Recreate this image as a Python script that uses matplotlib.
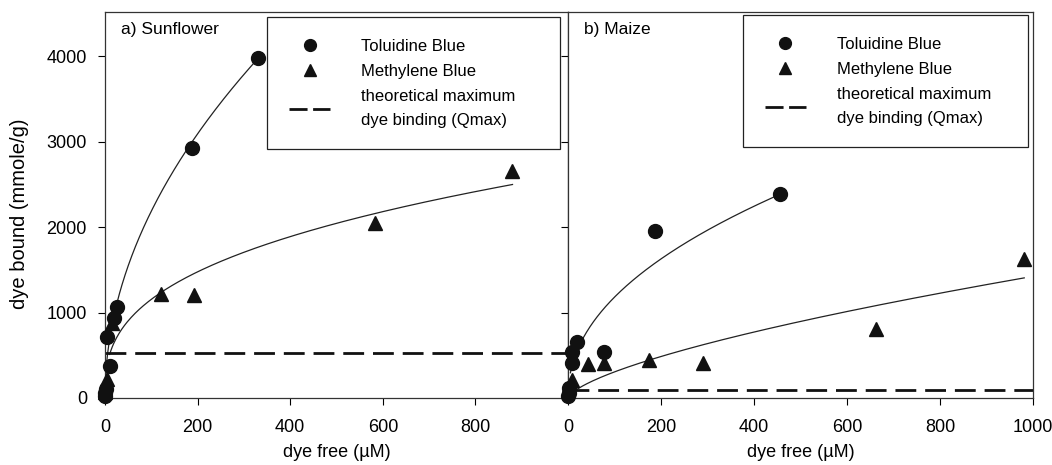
import numpy as np
import matplotlib.pyplot as plt
from matplotlib.lines import Line2D

############# DATA ###############
# a) Sunflower
SUN_TB_FREE = [0, 1, 2, 5, 11, 20, 25, 188, 330]
SUN_TB_BOUND = [20, 60, 110, 710, 380, 930, 1070, 2920, 3975]
SUN_MB_FREE = [1, 4, 15, 122, 193, 583, 879]
SUN_MB_BOUND = [70, 225, 880, 1220, 1200, 2045, 2660]
SUN_QMAX = 525

# b) Maize
MAI_TB_FREE = [0, 1, 3, 9, 9, 19, 78, 187, 456]
MAI_TB_BOUND = [20, 60, 120, 410, 540, 660, 540, 1955, 2386]
MAI_MB_FREE = [8, 43, 77, 175, 290, 662, 981]
MAI_MB_BOUND = [215, 400, 405, 445, 405, 805, 1620]
MAI_QMAX = 92

# Freundlich fit curves (q = K * c^n), fit ranges
SUN_TB_FIT = (218.5, 0.50, 0.5, 330)
SUN_MB_FIT = (225.0, 0.355, 10, 880)
MAI_TB_FIT = (140.0, 0.463, 5, 456)
MAI_MB_FIT = (14.1, 0.668, 8, 981)

X_TICKS = [0, 200, 400, 600, 800, 1000]
Y_TICKS = [0, 1000, 2000, 3000, 4000]
LEGEND_LABELS = ["Toluidine Blue", "Methylene Blue",
                 "theoretical maximum\ndye binding (Qmax)"]
##################################

OUTPUT_PATH = "out.png"
plt.rcParams["font.family"] = ["Liberation Sans", "DejaVu Sans"]

fig = plt.figure(figsize=(10.52, 4.65), dpi=100)
ax_a = fig.add_axes([0.0998, 0.1441, 0.4402, 0.8301])
ax_b = fig.add_axes([0.5400, 0.1441, 0.4420, 0.8301])


def draw_panel(ax, tb_x, tb_y, mb_x, mb_y, qmax, tb_fit, mb_fit, label, xticks,
               leg_box):
    for K, n, c0, c1 in (tb_fit, mb_fit):
        c = np.linspace(c0, c1, 300)
        ax.plot(c, K * c ** n, color="#222222", linewidth=0.9, zorder=2)

    ax.plot([0, 1000], [qmax, qmax], color="#111111", linewidth=2.0,
            dashes=(7.5, 3.2), zorder=2)

    ax.plot(tb_x, tb_y, "o", color="#111111", markersize=10, clip_on=False, zorder=3)
    ax.plot(mb_x, mb_y, "^", color="#111111", markersize=10, clip_on=False, zorder=3)

    ax.set_xlim(0, 1000)
    ax.set_ylim(0, 4515)
    ax.set_xticks(xticks)
    ax.set_yticks(Y_TICKS)
    ax.tick_params(direction="out", length=5, width=0.8, labelsize=13)
    ax.tick_params(axis="x", pad=10)
    ax.tick_params(axis="y", pad=8)
    for sp in ax.spines.values():
        sp.set_linewidth(0.9)
        sp.set_color("#333333")

    ax.text(0.035, 0.955, label, transform=ax.transAxes, fontsize=12.5,
            ha="left", va="center")

    ax.set_xlabel("dye free (\u00b5M)", fontsize=13, labelpad=6)

    handles = [
        Line2D([], [], marker="o", ls="none", color="#111111", markersize=8.5),
        Line2D([], [], marker="^", ls="none", color="#111111", markersize=9),
        Line2D([], [], color="#111111", linewidth=2.0, dashes=(6.5, 2)),
    ]
    leg = ax.legend(handles, LEGEND_LABELS,
                    loc="upper left", bbox_to_anchor=leg_box, mode="expand",
                    fontsize=12, frameon=True, fancybox=False,
                    edgecolor="#222222", framealpha=1.0, borderpad=1.3,
                    handlelength=2.5, handletextpad=1.85, labelspacing=0.62,
                    borderaxespad=0.0)
    leg.get_frame().set_linewidth(0.9)
    for t in leg.get_texts():
        t.set_linespacing(1.68)


draw_panel(ax_a, SUN_TB_FREE, SUN_TB_BOUND, SUN_MB_FREE, SUN_MB_BOUND,
           SUN_QMAX, SUN_TB_FIT, SUN_MB_FIT, "a) Sunflower", X_TICKS[:-1],
           (0.350, 0.60, 0.633, 0.387))
draw_panel(ax_b, MAI_TB_FREE, MAI_TB_BOUND, MAI_MB_FREE, MAI_MB_BOUND,
           MAI_QMAX, MAI_TB_FIT, MAI_MB_FIT, "b) Maize", X_TICKS,
           (0.376, 0.60, 0.613, 0.392))

fig.text(20 / 1052, 1 - 214 / 465, "dye bound (mmole/g)", rotation=90,
         fontsize=14.5, ha="center", va="center")
ax_b.tick_params(labelleft=False)

fig.savefig(OUTPUT_PATH, dpi=100)
